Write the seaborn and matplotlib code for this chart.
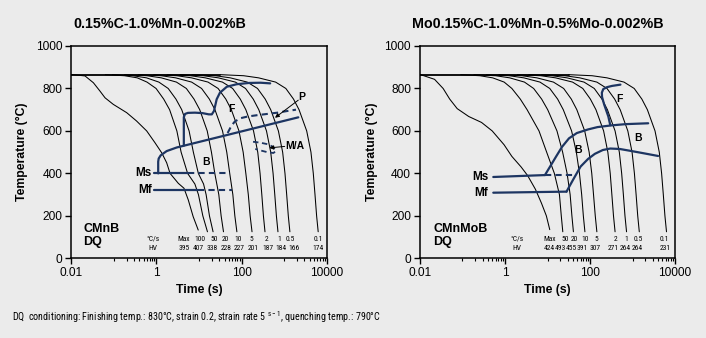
import numpy as np
import matplotlib
matplotlib.use("Agg")
import matplotlib.pyplot as plt
from matplotlib import ticker, font_manager
import seaborn as sns

# ---------------- data ----------------
START_T = 865
curve_T = [865, 860, 850, 830, 800, 750, 700, 600, 500, 400, 300, 200, 125]
fast_T = [865, 860, 850, 830, 800, 750, 700, 600, 500, 400, 350, 300, 200, 125]

# left: 0.15%C-1.0%Mn-0.002%B
L_rates = ["Max", "100", "50", "20", "10", "5", "2", "1", "0.5", "0.1"]
L_hv = ["395", "407", "338", "228", "227", "201", "187", "184", "166", "174"]
L_max_t = [0.01, 0.021, 0.033, 0.047, 0.062, 0.097, 0.20, 0.34, 0.59, 0.92, 1.33, 1.74, 2.09, 3.27, 4.44, 5.6, 7.3, 9.6]
L_max_T = [866, 859, 827, 788, 756, 725, 686, 647, 600, 545, 497, 450, 400, 353, 330, 275, 196, 133]
L_100_t = [0.063, 0.178, 0.355, 0.60, 0.98, 1.48, 2.04, 3.02, 3.8, 5.4, 8.0, 9.7, 12.3, 15.8]
L_50_t = [0.092, 0.28, 0.585, 1.14, 1.89, 2.87, 3.93, 5.85, 7.37, 9.65, 12.8, 14.7, 17.6, 21.4]
L_20_t = [0.178, 0.596, 1.30, 2.95, 5.04, 7.63, 10.4, 15.6, 19.6, 23.5, 29.2, 33.1, 37.6]
L_10_t = [0.376, 1.29, 2.83, 6.71, 11.5, 17.5, 23.7, 35.7, 44.9, 52.7, 62.4, 69.5, 77.6]
L_5_t = [0.865, 3.01, 6.68, 16.3, 28.1, 42.6, 57.5, 86.9, 109, 126, 144, 159, 176]
L_2_t = [1.78, 6.31, 14.1, 35.5, 61.7, 93.3, 126, 191, 240, 272, 299, 326, 355]
L_1_t = [3.59, 12.7, 28.5, 71.6, 124, 188, 254, 385, 484, 550, 603, 658, 716]
L_05_t = [6.84, 24.3, 54.3, 136, 237, 359, 484, 733, 923, 1047, 1148, 1253, 1365]
L_01_t = [31.6, 112, 251, 631, 1096, 1660, 2239, 3388, 4266, 4842, 5309, 5794, 6310]

L_F_t = [4.4, 4.4, 4.7, 5.5, 8.0, 12.0, 17.0, 20.0, 22.5, 26, 31, 45, 77, 150, 280, 470]
L_F_T = [531, 665, 680, 685, 686, 684, 678, 678, 694, 749, 780, 808, 820, 826, 827, 824]
L_B_t = [1.1, 1.1, 1.13, 1.26, 1.74, 3.0, 2150]
L_B_T = [400, 455, 470, 485, 505, 522, 664]
L_P_t = [47, 58, 70, 95, 140, 230, 400, 700, 1200, 1900]
L_P_T = [590, 625, 645, 660, 668, 674, 680, 686, 694, 700]
L_MA_t = [186, 270, 420, 560, 640, 560, 400, 280, 210]
L_MA_T = [549, 545, 537, 524, 505, 496, 500, 508, 515]
L_Ms_solid_t = [0.875, 5.6]
L_Ms_dash_t = [5.6, 54]
L_Ms_T = 400
L_Mf_solid_t = [0.875, 9.6]
L_Mf_dash_t = [9.6, 59]
L_Mf_T = 322

# right: 0.15%C-1.0%Mn-0.5%Mo-0.002%B
R_rates = ["Max", "50", "20", "10", "5", "2", "1", "0.5", "0.1"]
R_hv = ["424", "493", "455", "391", "307", "271", "264", "264", "231"]
R_max_t = [0.01, 0.022, 0.035, 0.05, 0.075, 0.14, 0.28, 0.5, 0.95, 1.45, 2.4, 3.4, 5.2, 7.2, 9.4, 11.3]
R_max_T = [866, 843, 800, 750, 705, 668, 640, 600, 535, 480, 430, 390, 325, 260, 200, 135]
R_50_t = [0.091, 0.257, 0.513, 0.955, 1.45, 2.29, 3.31, 6.31, 9.55, 14.5, 19.1, 21.1, 22.9]
R_20_t = [0.186, 0.603, 1.29, 2.87, 4.72, 7.28, 10.1, 16.7, 22.7, 28.9, 34.1, 37.5, 40.7]
R_10_t = [0.367, 1.26, 2.77, 6.65, 11.3, 17.3, 23.5, 36.9, 47.7, 56.5, 63.7, 69.7, 75.9]
R_5_t = [0.72, 2.51, 5.62, 13.8, 24.0, 36.3, 49.0, 75.0, 95.5, 110, 121, 133, 145]
R_2_t = [1.95, 6.92, 15.5, 38.9, 67.6, 102, 138, 209, 263, 299, 327, 357, 389]
R_1_t = [3.63, 12.9, 28.8, 72.4, 126, 191, 257, 389, 490, 556, 610, 665, 724]
R_05_t = [7.24, 25.7, 57.5, 145, 251, 380, 513, 776, 977, 1109, 1216, 1327, 1445]
R_01_t = [31.6, 112, 251, 631, 1096, 1660, 2239, 3388, 4266, 4842, 5309, 5794, 6310]

R_F_t = [300, 270, 215, 192, 190, 205, 250, 330, 520]
R_F_T = [627, 668, 725, 760, 780, 797, 806, 812, 818]
R_B1_t = [8.7, 11.5, 16, 22, 32, 49, 90, 150, 316, 700, 2340]
R_B1_T = [392, 432, 480, 525, 565, 590, 607, 618, 626, 632, 636]
R_B2_t = [28, 40, 60, 90, 130, 200, 300, 500, 900, 1800, 4000]
R_B2_T = [314, 370, 432, 468, 492, 510, 517, 515, 506, 495, 482]
R_Ms_solid_t = [0.53, 8.7]
R_Ms_solid_T = [383, 392]
R_Ms_dash_t = [8.7, 46]
R_Ms_dash_T = [392, 392]
R_Mf_t = [0.53, 28]
R_Mf_T = [309, 314]

# ---------------- layout / style ----------------
BG = "#ebebeb"
NAVY = "#1d3562"
# x positions (s) of the small rate / hardness labels under the curves
L_rate_pos = [4.44, 10.5, 22.5, 42.4, 81.1, 173, 389, 757, 1371, 6339]
L_hv_pos = [4.44, 9.6, 19.9, 42.4, 86.9, 188, 411, 843, 1730, 6138]
R_rate_pos = [11.0, 25.4, 42.1, 75.0, 141, 394, 714, 1346, 5728]
R_hv_pos = [10.8, 19.7, 35.7, 64.9, 131, 347, 667, 1276, 5821]
L_unit_pos = 0.83
R_unit_pos = 1.9
ROW_RATE = 89
ROW_HV = 47

sns.set_style("ticks")
names = {f.name for f in font_manager.fontManager.ttflist}
MAIN = "Liberation Sans" if "Liberation Sans" in names else "DejaVu Sans"
NARROW = None
for cand in ("Liberation Sans Narrow", "Roboto Condensed", "Open Sans Condensed"):
    if cand in names:
        NARROW = cand
        break
plt.rcParams["font.family"] = [MAIN, "DejaVu Sans"]
for k in ("text.color", "axes.labelcolor", "xtick.color", "ytick.color", "axes.edgecolor"):
    plt.rcParams[k] = "black"
plt.rcParams["axes.linewidth"] = 1.1
SMALL_FAM = [NARROW or MAIN, "DejaVu Sans"]
SMALL_SIZE = 5.4 if NARROW else 4.6
FOOT_SIZE = 7.2 if NARROW else 6.4

fig = plt.figure(figsize=(7.06, 3.38), dpi=100, facecolor=BG)
axL = fig.add_axes([71.3 / 706, 1 - 258.3 / 338, 255.4 / 706, 212.3 / 338])
axR = fig.add_axes([420 / 706, 1 - 258.3 / 338, 255 / 706, 212.3 / 338])


def line(ax, t, T, color="black", lw=0.75, ls="-"):
    sns.lineplot(x=np.asarray(t, float), y=np.asarray(T, float), ax=ax, color=color,
                 linewidth=lw, linestyle=ls, sort=False, estimator=None,
                 legend=False, errorbar=None)


DASH = (0, (3, 2))


def style_axes(ax):
    ax.set_facecolor(BG)
    ax.set_xscale("log")
    ax.set_xlim(0.01, 10000)
    ax.set_ylim(0, 1000)
    ax.xaxis.set_major_locator(ticker.FixedLocator([0.01, 1, 100, 10000]))
    ax.xaxis.set_major_formatter(ticker.FixedFormatter(["0.01", "1", "100", "10000"]))
    minors = [m * s for m in (1, 100, 10000) for s in (0.1, 0.2, 0.3, 0.4, 0.5, 0.6, 0.7, 0.8, 0.9)]
    ax.xaxis.set_minor_locator(ticker.FixedLocator(minors))
    ax.xaxis.set_minor_formatter(ticker.NullFormatter())
    ax.set_yticks([0, 200, 400, 600, 800, 1000])
    ax.tick_params(axis="both", which="major", direction="out", length=4, width=1.0,
                   labelsize=8.6, colors="black", pad=2.5)
    ax.tick_params(axis="x", which="minor", direction="out", length=2.5, width=0.8,
                   colors="black")
    for s in ax.spines.values():
        s.set_visible(True)
        s.set_color("black")
        s.set_linewidth(1.1)
    ax.set_xlabel("")
    ax.set_ylabel("")


def small_labels(ax, unit_pos, rate_pos, rates, hv_pos, hvs):
    kw = dict(ha="center", va="center", fontsize=SMALL_SIZE, family=SMALL_FAM)
    ax.text(unit_pos, ROW_RATE, "°C/s", **kw)
    ax.text(unit_pos, ROW_HV, "HV", **kw)
    for x, r in zip(rate_pos, rates):
        ax.text(x, ROW_RATE, r, **kw)
    for x, h in zip(hv_pos, hvs):
        ax.text(x, ROW_HV, h, **kw)


# ---------------- left panel ----------------
ax = axL
line(ax, [0.01, L_01_t[0]], [START_T, START_T], lw=1.3)
line(ax, L_max_t, L_max_T)
line(ax, L_100_t, fast_T)
line(ax, L_50_t, fast_T)
for tt in (L_20_t, L_10_t, L_5_t, L_2_t, L_1_t, L_05_t, L_01_t):
    line(ax, tt, curve_T)
line(ax, L_F_t, L_F_T, NAVY, 1.6)
line(ax, L_B_t, L_B_T, NAVY, 1.6)
line(ax, L_P_t, L_P_T, NAVY, 1.5, DASH)
line(ax, L_MA_t, L_MA_T, NAVY, 1.3, DASH)
line(ax, L_Ms_solid_t, [L_Ms_T] * 2, NAVY, 1.6)
line(ax, L_Ms_dash_t, [L_Ms_T] * 2, NAVY, 1.5, DASH)
line(ax, L_Mf_solid_t, [L_Mf_T] * 2, NAVY, 1.6)
line(ax, L_Mf_dash_t, [L_Mf_T] * 2, NAVY, 1.5, DASH)
style_axes(ax)
ax.text(0.78, L_Ms_T, "Ms", ha="right", va="center", fontsize=8.5, fontweight="bold")
ax.text(0.78, L_Mf_T, "Mf", ha="right", va="center", fontsize=8.5, fontweight="bold")
ax.text(15, 452, "B", ha="center", va="center", fontsize=7.5, fontweight="bold")
ax.text(59, 702, "F", ha="center", va="center", fontsize=7.5, fontweight="bold")
ax.text(2600, 758, "P", ha="center", va="center", fontsize=7.5, fontweight="bold")
ax.annotate("", xy=(610, 662), xytext=(2150, 745),
            arrowprops=dict(arrowstyle="-|>", color="black", lw=0.7, mutation_scale=6,
                            shrinkA=0, shrinkB=0))
ax.text(1080, 529, "M/A", ha="left", va="center", fontsize=7.5, fontweight="bold")
ax.annotate("", xy=(450, 520), xytext=(1030, 527),
            arrowprops=dict(arrowstyle="-|>", color="black", lw=0.7, mutation_scale=6,
                            shrinkA=0, shrinkB=0))
ax.text(0.047, 0.137, "CMnB", transform=ax.transAxes, ha="left", va="center",
        fontsize=9, fontweight="bold")
ax.text(0.047, 0.078, "DQ", transform=ax.transAxes, ha="left", va="center",
        fontsize=9, fontweight="bold")
small_labels(ax, L_unit_pos, L_rate_pos, L_rates, L_hv_pos, L_hv)

# ---------------- right panel ----------------
ax = axR
line(ax, [0.01, R_01_t[0]], [START_T, START_T], lw=1.3)
line(ax, R_max_t, R_max_T)
for tt in (R_50_t, R_20_t, R_10_t, R_5_t, R_2_t, R_1_t, R_05_t, R_01_t):
    line(ax, tt, curve_T)
line(ax, R_F_t, R_F_T, NAVY, 1.6)
line(ax, R_B1_t, R_B1_T, NAVY, 1.6)
line(ax, R_B2_t, R_B2_T, NAVY, 1.6)
line(ax, R_Ms_solid_t, R_Ms_solid_T, NAVY, 1.6)
line(ax, R_Ms_dash_t, R_Ms_dash_T, NAVY, 1.5, DASH)
line(ax, R_Mf_t, R_Mf_T, NAVY, 1.6)
style_axes(ax)
ax.text(0.40, 384, "Ms", ha="right", va="center", fontsize=8.5, fontweight="bold")
ax.text(0.39, 309, "Mf", ha="right", va="center", fontsize=8.5, fontweight="bold")
ax.text(53, 510, "B", ha="center", va="center", fontsize=7.5, fontweight="bold")
ax.text(1380, 565, "B", ha="center", va="center", fontsize=7.5, fontweight="bold")
ax.text(500, 749, "F", ha="center", va="center", fontsize=7.5, fontweight="bold")
ax.text(0.051, 0.137, "CMnMoB", transform=ax.transAxes, ha="left", va="center",
        fontsize=9, fontweight="bold")
ax.text(0.051, 0.078, "DQ", transform=ax.transAxes, ha="left", va="center",
        fontsize=9, fontweight="bold")
small_labels(ax, R_unit_pos, R_rate_pos, R_rates, R_hv_pos, R_hv)

# ---------------- figure texts ----------------
fig.text(159.5 / 706, 1 - 23.5 / 338, "0.15%C-1.0%Mn-0.002%B", ha="center", va="center",
         fontsize=10.3, fontweight="bold")
fig.text(537.5 / 706, 1 - 23.5 / 338, "Mo0.15%C-1.0%Mn-0.5%Mo-0.002%B", ha="center",
         va="center", fontsize=10.3, fontweight="bold")
for xc in (21.7, 371.7):
    fig.text(xc / 706, 1 - 152 / 338, "Temperature (°C)", rotation=90, ha="center",
             va="center", fontsize=8.8, fontweight="bold")
for xc in (199, 547.5):
    fig.text(xc / 706, 1 - 290 / 338, "Time (s)", ha="center", va="center",
             fontsize=8.8, fontweight="bold")
fig.text(12.3 / 706, 1 - 316.7 / 338,
         "DQ  conditioning: Finishing temp.: 830°C, strain 0.2, strain rate 5 $^{\\mathregular{s-1}}$, quenching temp.: 790°C",
         ha="left", va="center", fontsize=FOOT_SIZE, family=SMALL_FAM)

fig.savefig("out.png", dpi=100, facecolor=BG)
